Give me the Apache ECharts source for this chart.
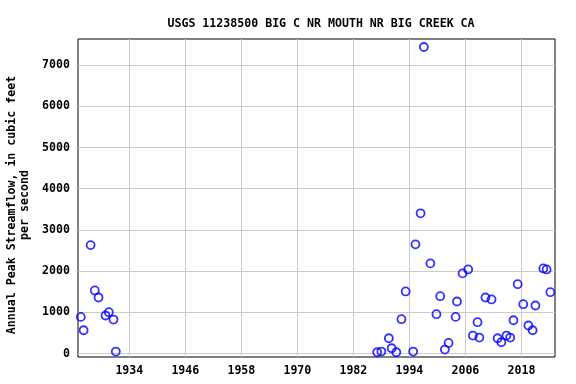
<!DOCTYPE html>
<html><head><meta charset="utf-8">
<script src="https://cdn.jsdelivr.net/npm/echarts@6/dist/echarts.min.js"></script>
<style>html,body{margin:0;padding:0;background:#fff}#c{width:576px;height:384px}</style>
</head><body><div id="c"></div>
<script>
const title = 'USGS 11238500 BIG C NR MOUTH NR BIG CREEK CA';
const yTitle = 'Annual Peak Streamflow, in cubic feet\nper second';
const xTicks = [1934, 1946, 1958, 1970, 1982, 1994, 2006, 2018];
const yTicks = [0, 1000, 2000, 3000, 4000, 5000, 6000, 7000];
const years = [1923.6, 1924.2, 1925.7, 1926.6, 1927.4, 1928.9, 1929.6, 1930.6, 1931.1,
  1987.1, 1988.0, 1989.6, 1990.2, 1991.2, 1992.3, 1993.2, 1994.8, 1995.3, 1996.4, 1997.1, 1998.5,
  1999.8, 2000.6, 2001.6, 2002.4, 2003.9, 2004.2, 2005.4, 2006.6, 2007.6, 2008.6, 2009.0,
  2010.3, 2011.6, 2012.9, 2013.7, 2014.8, 2015.6, 2016.3, 2017.2, 2018.4, 2019.5, 2020.4,
  2021.0, 2022.7, 2023.4, 2024.2];
const peaks = [890, 566, 2632, 1531, 1361, 924, 1004, 826, 49,
  32, 49, 372, 129, 32, 834, 1507, 49, 2650, 3403, 7438, 2188,
  955, 1393, 97, 258, 890, 1264, 1945, 2042, 437, 761, 389,
  1361, 1313, 372, 275, 437, 389, 809, 1684, 1198, 681, 566,
  1167, 2066, 2042, 1490];
const font = 'DejaVu Sans Mono';
const fs = 11.6;
const chart = echarts.init(document.getElementById('c'));
chart.setOption({
  animation: false,
  title: { text: title, left: 316, top: 13, textAlign: 'center',
    textStyle: { fontFamily: font, fontWeight: 'bold', fontSize: fs, color: '#000' } },
  grid: { left: 78, right: 21, top: 39, bottom: 27, outerBoundsMode: 'none', containLabel: false,
    show: true, borderColor: '#000', borderWidth: 1, backgroundColor: 'transparent' },
  xAxis: { type: 'value', min: 1923, max: 2025.2,
    axisLine: { show: false }, axisTick: { show: false, customValues: xTicks },
    axisLabel: { customValues: xTicks, formatter: v => String(v), fontFamily: font, fontWeight: 'bold', fontSize: fs, color: '#000', margin: 8 },
    splitLine: { show: true, lineStyle: { color: '#cccccc', width: 1 } } },
  yAxis: { type: 'value', min: -83, max: 7632,
    name: yTitle, nameLocation: 'middle', nameGap: 47, nameRotate: 90,
    nameTextStyle: { fontFamily: font, fontWeight: 'bold', fontSize: fs, color: '#000', lineHeight: 13, align: 'center', padding: [0, 14, 0, 0] },
    axisLine: { show: false }, axisTick: { show: false, customValues: yTicks },
    axisLabel: { customValues: yTicks, formatter: v => String(v), fontFamily: font, fontWeight: 'bold', fontSize: fs, color: '#000', margin: 8 },
    splitLine: { show: true, lineStyle: { color: '#cccccc', width: 1 } } },
  series: [{ type: 'scatter', clip: false, data: years.map((y, i) => [y, peaks[i]]),
    symbol: 'circle', symbolSize: 8,
    itemStyle: { color: 'rgba(0,0,0,0)', borderColor: '#0000ff', borderWidth: 1.8 } }]
});
</script></body></html>
